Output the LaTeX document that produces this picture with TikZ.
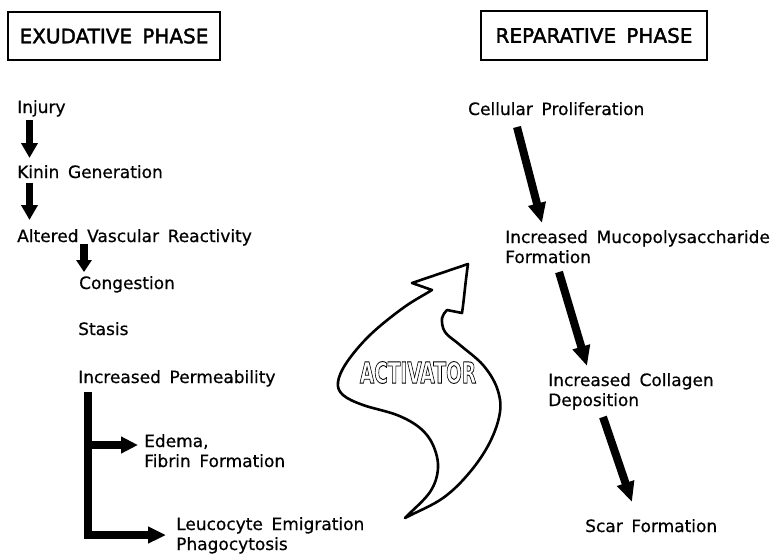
\documentclass[tikz,border=0pt]{standalone}
\usepackage{fontspec}
\usepackage{graphicx}
\setmainfont[WordSpace=1.6,FakeBold=0.6]{DejaVu Sans}
\newfontfamily\headfont[FakeBold=2,WordSpace=1.6]{DejaVu Sans}
\newfontfamily\actfont{DejaVu Sans Bold}
\usetikzlibrary{arrows.meta}
\begin{document}
\begin{tikzpicture}[x=1pt,y=-1pt,
  lbl/.style={anchor=base west, inner sep=0pt, font=\fontsize{17}{20}\selectfont},
  phase/.style={draw, line width=1.3pt, inner sep=0pt, font=\headfont\fontsize{20}{24}\selectfont},
  vfat/.style={line width=7.5pt, -{Triangle[width=16pt,length=15pt]}},
  dfat/.style={line width=8pt, -{Triangle[width=17pt,length=20pt]}},
  hfat/.style={line width=7.5pt, line join=miter, -{Triangle[width=16pt,length=17pt]}},
  blob/.style={line width=2.6pt, line join=round, line cap=round}]
\useasboundingbox (0,0) rectangle (771,555);

% headings
\node[phase, minimum width=212pt, minimum height=48pt] (exu) at (114,36) {EXUDATIVE PHASE};
\node[phase, minimum width=226pt, minimum height=49pt] (rep) at (594,35.5) {REPARATIVE PHASE};

% left column
\node[lbl] (inj) at (17,113) {Injury};
\node[lbl] (kin) at (17,178) {Kinin Generation};
\node[lbl] (alt) at (17,242) {Altered Vascular Reactivity};
\node[lbl] (con) at (79,289) {Congestion};
\node[lbl] (sta) at (78,335) {Stasis};
\node[lbl] (perm) at (78,383) {Increased Permeability};
\node[lbl] (ede) at (144,447) {Edema,};
\node[lbl] (fib) at (144,467) {Fibrin Formation};
\node[lbl] (leu) at (176,530) {Leucocyte Emigration};
\node[lbl] (pha) at (176,550) {Phagocytosis};

% right column
\node[lbl] (cel) at (468,115) {Cellular Proliferation};
\node[lbl] (muc) at (505,243) {Increased Mucopolysaccharide};
\node[lbl] (for) at (505,263) {Formation};
\node[lbl] (col) at (548,386) {Increased Collagen};
\node[lbl] (dep) at (548,406) {Deposition};
\node[lbl] (scar) at (585,532) {Scar Formation};

% left arrows
\draw[vfat] ([shift={(12.5,7)}]inj.base west) -- ([shift={(12.5,-20)}]kin.base west);
\draw[vfat] ([shift={(12.5,5)}]kin.base west) -- ([shift={(12.5,-22)}]alt.base west);
\draw[line width=7.5pt, -{Triangle[width=15pt,length=12pt]}] ([shift={(67,2)}]alt.base west) -- ([shift={(5,-17)}]con.base west);

% bracket
\draw[hfat, line width=8pt, -{Triangle[width=16pt,length=18pt]}] ([shift={(10,9)}]perm.base west) |- ([shift={(-10,5)}]leu.base west);
\draw[hfat] ([shift={(10,62)}]perm.base west) -- ([shift={(-6,-2)}]ede.base west);

% right arrows
\draw[dfat] ([shift={(49,12)}]cel.base west) -- ([shift={(37,-20)}]muc.base west);
\draw[dfat] ([shift={(54,9)}]for.base west) -- ([shift={(39,-20)}]col.base west);
\draw[dfat] ([shift={(55,11)}]dep.base west) -- ([shift={(47,-30)}]scar.base west);

% activator shape
\draw[blob] (468,264) -- (412,283) -- (432,290)
  .. controls (422.3,296) and (413.3,300.5) .. (403,308)
  .. controls (392.7,315.5) and (379.3,326) .. (370,335)
  .. controls (360.7,344) and (352.3,354.2) .. (347,362)
  .. controls (341.7,369.8) and (338.7,376.5) .. (338,382)
  .. controls (337.3,387.5) and (338.8,391.2) .. (343,395)
  .. controls (347.2,398.8) and (354,401.7) .. (363,405)
  .. controls (372,408.3) and (387.5,411.2) .. (397,415)
  .. controls (406.5,418.8) and (414,423) .. (420,428)
  .. controls (426,433) and (430,438.3) .. (433,445)
  .. controls (436,451.7) and (438.5,460.2) .. (438,468)
  .. controls (437.5,475.8) and (435.5,483.7) .. (430,492)
  .. controls (424.5,500.3) and (413.3,509.3) .. (405,518)
  .. controls (417.7,511.3) and (432.2,505.7) .. (443,498)
  .. controls (453.8,490.3) and (462.2,481.3) .. (470,472)
  .. controls (477.8,462.7) and (485,452) .. (490,442)
  .. controls (495,432) and (498.8,421) .. (500,412)
  .. controls (501.2,403) and (499.8,395.8) .. (497,388)
  .. controls (494.2,380.2) and (489.2,372.2) .. (483,365)
  .. controls (476.8,357.8) and (466.3,350.5) .. (460,345)
  .. controls (453.7,339.5) and (448,336.5) .. (445,332)
  .. controls (442,327.5) and (441.7,321.7) .. (442,318)
  .. controls (442.3,314.3) and (445.3,312.7) .. (447,310)
  -- (462,313) .. controls (464,300) and (465,285) .. (468,264) -- cycle;
\node[inner sep=0pt] (act) at (418,372.5) {\scalebox{0.64}[1]{\actfont\fontsize{29}{30}\selectfont\special{pdf:literal direct 1 Tr 0.9 w}ACTIVATOR\special{pdf:literal direct 0 Tr}}};
\end{tikzpicture}
\end{document}
